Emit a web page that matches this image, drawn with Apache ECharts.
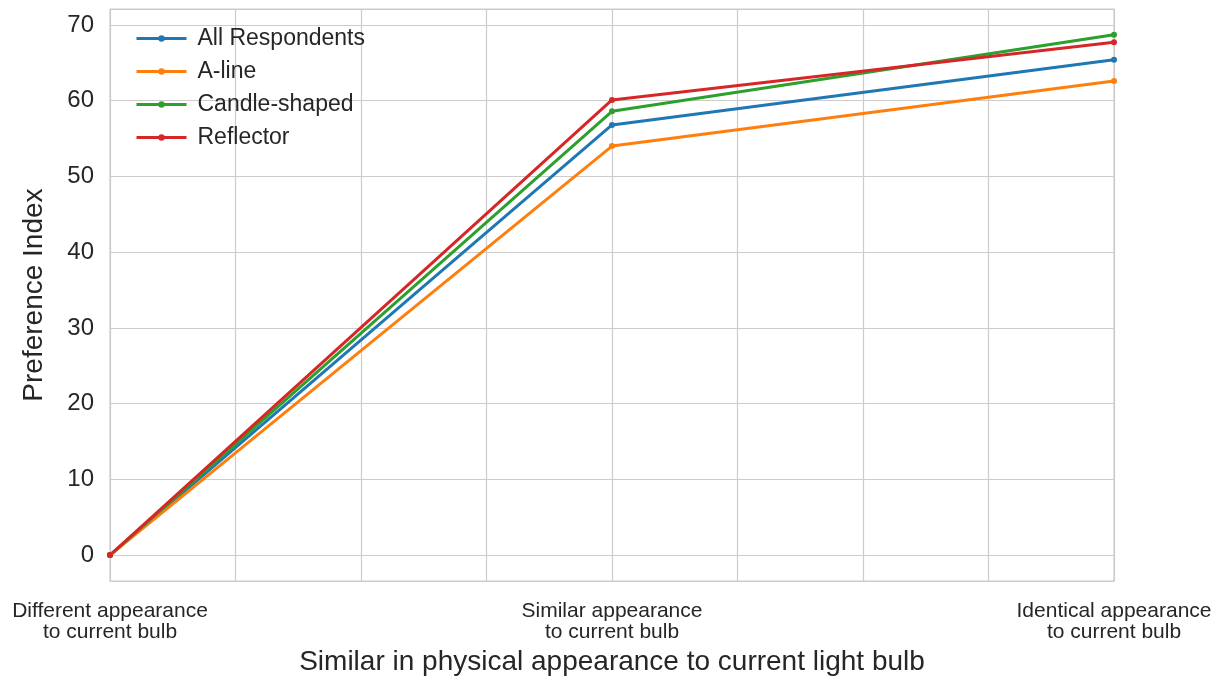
<!DOCTYPE html>
<html>
<head>
<meta charset="utf-8">
<script src="https://cdn.jsdelivr.net/npm/echarts@6/dist/echarts.min.js"></script>
<style>html,body{margin:0;padding:0;background:#fff;}#c{width:1223px;height:681px;}</style>
</head>
<body>
<div id="c"></div>
<script>
const categories = ["Different appearance\nto current bulb", "Similar appearance\nto current bulb", "Identical appearance\nto current bulb"];
const seriesNames = ["All Respondents", "A-line", "Candle-shaped", "Reflector"];
const allRespondents = [0, 56.8, 65.4];
const aLine = [0, 54.0, 62.6];
const candleShaped = [0, 58.6, 68.7];
const reflector = [0, 60.1, 67.7];
const colors = ["#1f77b4", "#ff7f0e", "#2ca02c", "#d62728"];
const xTitle = "Similar in physical appearance to current light bulb";
const yTitle = "Preference Index";

const seriesValues = [allRespondents, aLine, candleShaped, reflector];
const FONT = "Liberation Sans, Arial, sans-serif";
const TXT = "#262626";

const chart = echarts.init(document.getElementById('c'), null, {renderer: 'canvas'});
chart.setOption({
  animation: false,
  color: colors,
  textStyle: {fontFamily: FONT},
  grid: {left: 110, right: 109, top: 9, bottom: 93, show: true, borderColor: '#cccccc', borderWidth: 1.2, containLabel: false},
  legend: {
    left: 130, top: 22, orient: 'vertical',
    itemWidth: 50, itemHeight: 8, itemGap: 10,
    lineStyle: {width: 3},
    textStyle: {fontSize: 23, color: TXT, lineHeight: 20, padding: [0, 0, 0, 6], fontFamily: FONT},
    data: seriesNames
  },
  xAxis: {
    type: 'value', min: 0, max: 2, interval: 0.25,
    axisLine: {show: false}, axisTick: {show: false},
    splitLine: {show: true, lineStyle: {color: '#cccccc', width: 1.2}},
    axisLabel: {
      margin: 20, fontSize: 21, lineHeight: 21, color: TXT, fontFamily: FONT, align: 'center',
      showMinLabel: true, showMaxLabel: true,
      formatter: function (v) { const i = Math.round(v); return Math.abs(v - i) < 1e-6 ? categories[i] : ''; }
    },
    name: xTitle, nameLocation: 'middle', nameGap: 66,
    nameTextStyle: {fontSize: 28, color: TXT, fontFamily: FONT}
  },
  yAxis: {
    type: 'value', min: -3.43, max: 72.1, splitNumber: 8,
    axisLine: {show: false}, axisTick: {show: false},
    splitLine: {show: true, lineStyle: {color: '#cccccc', width: 1.2}},
    axisLabel: {fontSize: 24, color: TXT, margin: 16, fontFamily: FONT, showMinLabel: false, showMaxLabel: false},
    name: yTitle, nameLocation: 'middle', nameGap: 62,
    nameTextStyle: {fontSize: 28, color: TXT, fontFamily: FONT}
  },
  series: seriesNames.map(function (n, k) {
    return {
      name: n, type: 'line',
      data: seriesValues[k].map(function (v, i) { return [i, v]; }),
      symbol: 'circle', symbolSize: 6, showSymbol: true,
      lineStyle: {width: 3, color: colors[k]},
      itemStyle: {color: colors[k]}
    };
  })
});
</script>
</body>
</html>
